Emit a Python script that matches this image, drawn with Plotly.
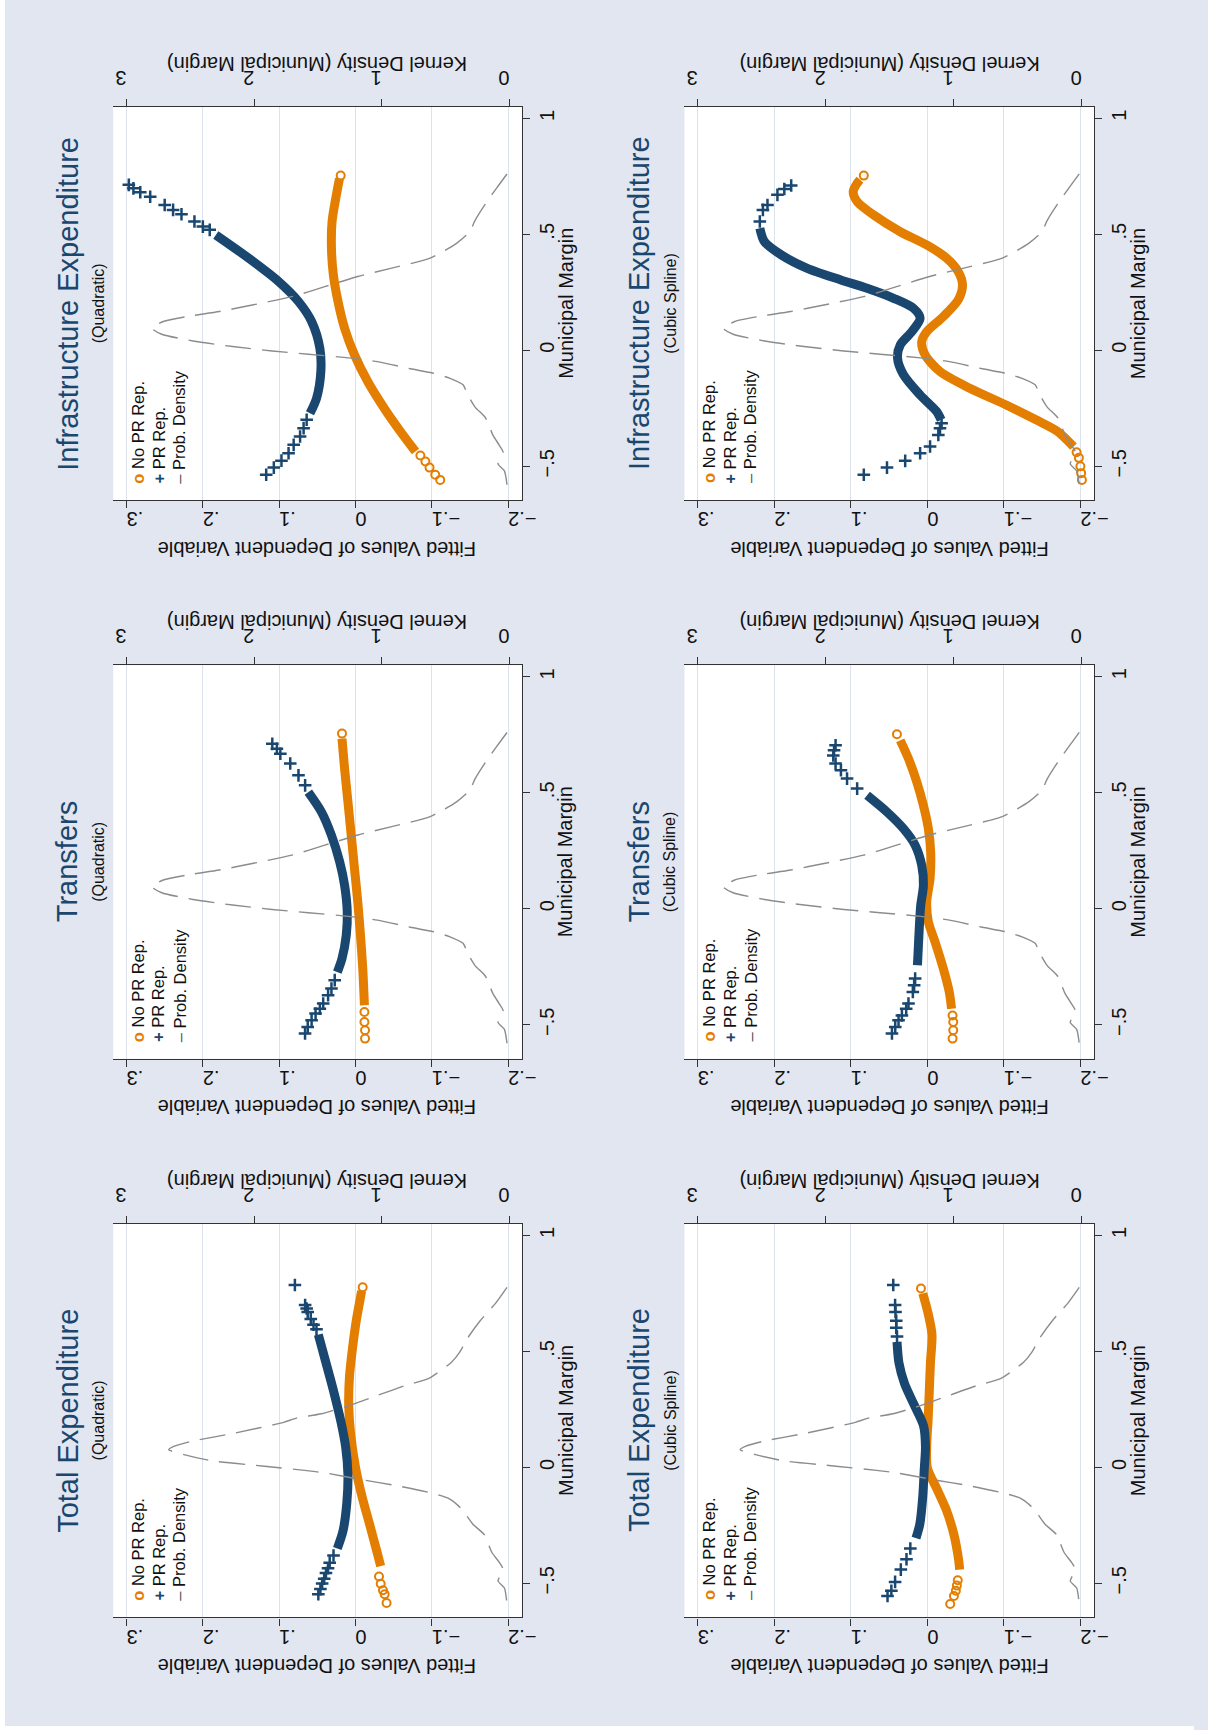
import plotly.graph_objects as go

W, H = 1208, 1730

# ---------------------------------------------------------------------------
# Data: (municipal margin, fitted value) pairs.
# "band" = densely populated stretch of each fitted series,
# "tail" = sparse observations at the ends of the margin range.
# ---------------------------------------------------------------------------

# Kernel density of the municipal margin: (margin, density)
DENS_TOTAL = [
    (0.776, 0.02), (0.707, 0.11), (0.632, 0.23), (0.556, 0.33), (0.497, 0.39),
    (0.453, 0.455), (0.382, 0.636), (0.353, 0.817), (0.310, 1.036), (0.267, 1.255),
    (0.231, 1.474), (0.212, 1.668), (0.194, 1.77), (0.148, 2.15), (0.111, 2.50),
    (0.090, 2.63), (0.076, 2.67), (0.055, 2.55), (0.028, 2.33), (0.005, 1.92),
    (-0.013, 1.604), (-0.025, 1.436), (-0.054, 1.152), (-0.078, 0.894),
    (-0.111, 0.610), (-0.133, 0.481), (-0.164, 0.404), (-0.19, 0.36),
    (-0.245, 0.287), (-0.29, 0.198), (-0.366, 0.139), (-0.41, 0.08),
    (-0.44, 0.05), (-0.49, 0.09), (-0.52, 0.04), (-0.59, 0.02),
]
DENS_OTHER = [
    (0.76, 0.02), (0.70, 0.10), (0.63, 0.19), (0.56, 0.27), (0.511, 0.312),
    (0.461, 0.415), (0.397, 0.622), (0.353, 0.931), (0.318, 1.189), (0.274, 1.447),
    (0.231, 1.705), (0.195, 2.015), (0.167, 2.273), (0.145, 2.531), (0.124, 2.712),
    (0.095, 2.802), (0.069, 2.724), (0.040, 2.479), (0.016, 2.170), (-0.003, 1.860),
    (-0.017, 1.576), (-0.034, 1.241), (-0.049, 1.035), (-0.080, 0.777),
    (-0.099, 0.596), (-0.121, 0.467), (-0.149, 0.364), (-0.19, 0.33),
    (-0.245, 0.27), (-0.29, 0.19), (-0.366, 0.13), (-0.41, 0.08), (-0.44, 0.05),
    (-0.49, 0.09), (-0.52, 0.04), (-0.58, 0.02),
]

# Total Expenditure, quadratic
TE_Q_NO_BAND = [(0.760, -0.008), (0.723, -0.006), (0.632, -0.001), (0.511, 0.004),
                (0.390, 0.0079), (0.270, 0.0089), (0.148, 0.0065), (0.0, 0.0),
                (-0.124, -0.0084), (-0.245, -0.0184), (-0.366, -0.0283), (-0.426, -0.033)]
TE_Q_NO_TAIL = [(0.776, -0.0094), (-0.471, -0.0308), (-0.502, -0.033),
                (-0.530, -0.036), (-0.547, -0.0382), (-0.585, -0.0407)]
TE_Q_PR_BAND = [(0.572, 0.0487), (0.451, 0.0387), (0.330, 0.0288), (0.194, 0.0189),
                (0.088, 0.0129), (-0.033, 0.0099), (-0.154, 0.0114), (-0.275, 0.0164),
                (-0.350, 0.0238)]
TE_Q_PR_TAIL = [(0.786, 0.0794), (0.700, 0.066), (0.685, 0.064), (0.670, 0.0626),
                (0.640, 0.0586), (0.615, 0.055), (0.595, 0.0511), (-0.380, 0.0288),
                (-0.411, 0.0338), (-0.435, 0.036), (-0.456, 0.0387), (-0.480, 0.041),
                (-0.501, 0.0437), (-0.525, 0.046), (-0.547, 0.0487)]

# Total Expenditure, cubic spline
TE_C_NO_BAND = [(0.750, 0.006), (0.738, 0.005), (0.663, -0.001), (0.572, -0.006),
                (0.451, -0.004), (0.330, -0.0025), (0.209, -0.001), (0.088, 0.001),
                (-0.003, 0.0), (-0.093, -0.0124), (-0.184, -0.0248), (-0.290, -0.0347),
                (-0.396, -0.0407), (-0.441, -0.0422)]
TE_C_NO_TAIL = [(0.771, 0.0084), (-0.487, -0.0397), (-0.510, -0.0385),
                (-0.532, -0.0372), (-0.555, -0.0347), (-0.589, -0.0298)]
TE_C_PR_BAND = [(0.541, 0.0397), (0.451, 0.0372), (0.360, 0.0298), (0.270, 0.0174),
                (0.179, 0.005), (0.088, 0.0025), (-0.003, 0.004), (-0.124, 0.006),
                (-0.245, 0.0099), (-0.305, 0.0149)]
TE_C_PR_TAIL = [(0.786, 0.0446), (0.700, 0.0422), (0.670, 0.0417), (0.632, 0.0407),
                (0.602, 0.0407), (0.564, 0.0397), (-0.350, 0.0223), (-0.396, 0.0273),
                (-0.441, 0.0347), (-0.494, 0.0422), (-0.532, 0.0471), (-0.555, 0.0521)]

# Transfers, quadratic
TR_Q_NO_BAND = [(0.733, 0.0177), (0.604, 0.0143), (0.460, 0.0099), (0.317, 0.0056),
                (0.173, 0.0013), (0.029, -0.003), (-0.114, -0.0065), (-0.258, -0.0095),
                (-0.416, -0.0117)]
TR_Q_NO_TAIL = [(0.755, 0.0177), (-0.445, -0.0117), (-0.488, -0.0117),
                (-0.524, -0.0125), (-0.560, -0.0125)]
TR_Q_PR_BAND = [(0.503, 0.0618), (0.417, 0.0445), (0.317, 0.0315), (0.202, 0.0207),
                (0.101, 0.0143), (-0.014, 0.0108), (-0.114, 0.0121), (-0.215, 0.0177),
                (-0.273, 0.0238)]
TR_Q_PR_TAIL = [(0.711, 0.109), (0.690, 0.103), (0.668, 0.0985), (0.626, 0.0855),
                (0.575, 0.0747), (0.532, 0.066), (-0.308, 0.0272), (-0.344, 0.0315),
                (-0.373, 0.0359), (-0.409, 0.0423), (-0.431, 0.0467), (-0.452, 0.0523),
                (-0.481, 0.0575), (-0.510, 0.0626), (-0.538, 0.0661)]

# Transfers, cubic spline
TR_C_NO_BAND = [(0.726, 0.0355), (0.647, 0.0247), (0.547, 0.0139), (0.446, 0.0052),
                (0.345, -0.0013), (0.245, -0.0043), (0.130, -0.0035), (0.029, 0.0009),
                (-0.057, -0.0013), (-0.143, -0.010), (-0.258, -0.0208),
                (-0.359, -0.0286), (-0.431, -0.0316)]
TR_C_NO_TAIL = [(0.752, 0.0398), (-0.460, -0.0329), (-0.488, -0.0338),
                (-0.524, -0.0338), (-0.560, -0.0329)]
TR_C_PR_BAND = [(0.489, 0.0788), (0.417, 0.0528), (0.345, 0.0312), (0.274, 0.016),
                (0.187, 0.0074), (0.101, 0.0052), (0.015, 0.0087), (-0.071, 0.0104),
                (-0.157, 0.0117), (-0.244, 0.013)]
TR_C_PR_TAIL = [(0.705, 0.120), (0.683, 0.122), (0.661, 0.123), (0.626, 0.120),
                (0.597, 0.113), (0.561, 0.105), (0.518, 0.0918), (-0.301, 0.016),
                (-0.330, 0.0173), (-0.359, 0.019), (-0.409, 0.0247), (-0.431, 0.0277),
                (-0.460, 0.0333), (-0.481, 0.0377), (-0.510, 0.042), (-0.538, 0.0463)]

# Infrastructure Expenditure, quadratic
IN_Q_NO_BAND = [(0.740, 0.021), (0.670, 0.025), (0.555, 0.0307), (0.440, 0.0315),
                (0.325, 0.029), (0.210, 0.0229), (0.095, 0.0143), (-0.020, 0.0013),
                (-0.135, -0.016), (-0.25, -0.0376), (-0.351, -0.059), (-0.437, -0.0786)]
IN_Q_NO_TAIL = [(0.753, 0.0194), (-0.454, -0.085), (-0.480, -0.0916),
                (-0.506, -0.097), (-0.537, -0.1045), (-0.559, -0.111)]
IN_Q_PR_BAND = [(0.497, 0.183), (0.397, 0.140), (0.296, 0.1006), (0.210, 0.0747),
                (0.124, 0.0575), (0.009, 0.0467), (-0.092, 0.0454), (-0.207, 0.051),
                (-0.272, 0.0596)]
IN_Q_PR_TAIL = [(0.713, 0.297), (0.698, 0.291), (0.681, 0.282), (0.662, 0.269),
                (0.626, 0.250), (0.605, 0.239), (0.586, 0.228), (0.555, 0.211),
                (0.533, 0.200), (0.519, 0.191), (-0.300, 0.064), (-0.336, 0.068),
                (-0.372, 0.0726), (-0.408, 0.081), (-0.444, 0.0877), (-0.476, 0.097),
                (-0.506, 0.107), (-0.537, 0.117)]

# Infrastructure Expenditure, cubic spline
IN_C_NO_BAND = [(0.735, 0.088), (0.720, 0.0918), (0.684, 0.097), (0.641, 0.0918),
                (0.583, 0.0701), (0.511, 0.0355), (0.454, 0.0009), (0.397, -0.0251),
                (0.339, -0.0403), (0.282, -0.0459), (0.217, -0.0403), (0.145, -0.0208),
                (0.080, 0.0009), (0.037, 0.0074), (-0.020, 0.003), (-0.092, -0.0165),
                (-0.164, -0.0554), (-0.236, -0.103), (-0.300, -0.142), (-0.350, -0.170),
                (-0.416, -0.191)]
IN_C_NO_TAIL = [(0.753, 0.0831), (-0.440, -0.195), (-0.464, -0.198),
                (-0.500, -0.200), (-0.530, -0.201), (-0.559, -0.202)]
IN_C_PR_BAND = [(0.526, 0.219), (0.468, 0.213), (0.411, 0.191), (0.353, 0.157),
                (0.303, 0.113), (0.267, 0.0788), (0.224, 0.0442), (0.181, 0.0182),
                (0.138, 0.0095), (0.080, 0.0203), (0.023, 0.0355), (-0.034, 0.039),
                (-0.106, 0.0312), (-0.193, 0.0095), (-0.264, -0.0121), (-0.300, -0.018)]
IN_C_PR_TAIL = [(0.710, 0.178), (0.695, 0.187), (0.670, 0.196), (0.626, 0.209),
                (0.605, 0.215), (0.555, 0.219), (-0.315, -0.0186), (-0.336, -0.0165),
                (-0.365, -0.0143), (-0.415, -0.0035), (-0.444, 0.0095), (-0.477, 0.029),
                (-0.506, 0.0528), (-0.537, 0.0831)]

FIT_TICKS = [-0.2, -0.1, 0.0, 0.1, 0.2, 0.3]
FIT_LABELS = ["\u2212.2", "\u2212.1", "0", ".1", ".2", ".3"]
DENS_TICKS = [0, 1, 2, 3]
DENS_LABELS = ["0", "1", "2", "3"]
MARGIN_TICKS = [-0.5, 0.0, 0.5, 1.0]
MARGIN_LABELS = ["\u2212.5", "0", ".5", "1"]

FIT_RANGE = [0.3175, -0.218]
DENS_RANGE = [3.1045, -0.0967]
MARGIN_RANGE = [-0.647, 1.05]

# ---------------------------------------------------------------------------
# Styling
# ---------------------------------------------------------------------------
ORANGE = "#E37E00"
NAVY = "#1A476F"
DENS_COLOR = "#8C8C8C"
BG = "#E1E6F0"
GRID = "#DCE2ED"
AXIS = "#333333"
TXT = "#111111"
FONT = "Liberation Sans, Arial, sans-serif"

COL_X = [(114.5, 528.0), (692.5, 1107.0)]
ROW_Y = [(106.7, 500.3), (665.2, 1058.8), (1223.8, 1617.4)]

PANELS = [
    # row, col, title, subtitle, no-band, no-tail, pr-band, pr-tail, density
    (0, 0, "Infrastructure Expenditure", "(Quadratic)",
     IN_Q_NO_BAND, IN_Q_NO_TAIL, IN_Q_PR_BAND, IN_Q_PR_TAIL, DENS_OTHER),
    (0, 1, "Infrastructure Expenditure", "(Cubic Spline)",
     IN_C_NO_BAND, IN_C_NO_TAIL, IN_C_PR_BAND, IN_C_PR_TAIL, DENS_OTHER),
    (1, 0, "Transfers", "(Quadratic)",
     TR_Q_NO_BAND, TR_Q_NO_TAIL, TR_Q_PR_BAND, TR_Q_PR_TAIL, DENS_OTHER),
    (1, 1, "Transfers", "(Cubic Spline)",
     TR_C_NO_BAND, TR_C_NO_TAIL, TR_C_PR_BAND, TR_C_PR_TAIL, DENS_OTHER),
    (2, 0, "Total Expenditure", "(Quadratic)",
     TE_Q_NO_BAND, TE_Q_NO_TAIL, TE_Q_PR_BAND, TE_Q_PR_TAIL, DENS_TOTAL),
    (2, 1, "Total Expenditure", "(Cubic Spline)",
     TE_C_NO_BAND, TE_C_NO_TAIL, TE_C_PR_BAND, TE_C_PR_TAIL, DENS_TOTAL),
]


def ax_id(letter, n):
    return letter if n == 1 else f"{letter}{n}"


def split(pairs):
    return [p[1] for p in pairs], [p[0] for p in pairs]


def px(x):
    return x / W


def py(y):
    return 1 - y / H


fig = go.Figure()
layout = {}
annotations = []

tick_font = dict(family=FONT, size=20, color=TXT)

for k, (row, col, title, subtitle, no_band, no_tail, pr_band, pr_tail, dens) in enumerate(PANELS):
    fx_n, dx_n, y_n = 2 * k + 1, 2 * k + 2, k + 1
    fx, dx, yy = ax_id("x", fx_n), ax_id("x", dx_n), ax_id("y", y_n)
    x0, x1 = COL_X[col]
    y0, y1 = ROW_Y[row]

    layout["xaxis" if fx_n == 1 else f"xaxis{fx_n}"] = dict(
        domain=[px(x0), px(x1)], anchor=yy, side="bottom", range=FIT_RANGE,
        tickmode="array", tickvals=FIT_TICKS, ticktext=FIT_LABELS, tickangle=180,
        ticks="outside", ticklen=7, tickwidth=1.3, tickcolor=AXIS,
        showline=True, linecolor=AXIS, linewidth=1.3,
        showgrid=True, gridcolor=GRID, gridwidth=1.3, zeroline=False,
        tickfont=tick_font, fixedrange=True,
    )
    layout[f"xaxis{dx_n}"] = dict(
        overlaying=fx, anchor=yy, side="top", range=DENS_RANGE,
        tickmode="array", tickvals=DENS_TICKS, ticktext=DENS_LABELS, tickangle=180,
        ticks="outside", ticklen=7, tickwidth=1.3, tickcolor=AXIS,
        showline=True, linecolor=AXIS, linewidth=1.3,
        showgrid=False, zeroline=False, tickfont=tick_font, fixedrange=True,
    )
    layout["yaxis" if y_n == 1 else f"yaxis{y_n}"] = dict(
        domain=[py(y1), py(y0)], anchor=fx, side="right", range=MARGIN_RANGE,
        tickmode="array", tickvals=MARGIN_TICKS, ticktext=MARGIN_LABELS, tickangle=-90,
        ticks="outside", ticklen=7, tickwidth=1.3, tickcolor=AXIS,
        showline=True, linecolor=AXIS, linewidth=1.3,
        showgrid=False, zeroline=False, tickfont=tick_font, fixedrange=True,
    )

    # No PR Rep. (orange hollow circles)
    v, m = split(no_band)
    fig.add_trace(go.Scatter(x=v, y=m, mode="lines", xaxis=fx, yaxis=yy,
                             line=dict(color=ORANGE, width=9, shape="spline", smoothing=0.8),
                             showlegend=False, hoverinfo="skip"))
    v, m = split(no_tail)
    fig.add_trace(go.Scatter(x=v, y=m, mode="markers", xaxis=fx, yaxis=yy,
                             marker=dict(symbol="circle-open", size=8, color=ORANGE,
                                         line=dict(width=2, color=ORANGE)),
                             showlegend=False, hoverinfo="skip"))
    # PR Rep. (navy crosses)
    v, m = split(pr_band)
    fig.add_trace(go.Scatter(x=v, y=m, mode="lines", xaxis=fx, yaxis=yy,
                             line=dict(color=NAVY, width=9, shape="spline", smoothing=0.8),
                             showlegend=False, hoverinfo="skip"))
    v, m = split(pr_tail)
    fig.add_trace(go.Scatter(x=v, y=m, mode="markers", xaxis=fx, yaxis=yy,
                             marker=dict(symbol="cross-thin", size=9, color=NAVY,
                                         line=dict(width=2.5, color=NAVY)),
                             showlegend=False, hoverinfo="skip"))
    # kernel density on the top axis
    d_m = [p[0] for p in dens]
    d_v = [p[1] for p in dens]
    fig.add_trace(go.Scatter(x=d_v, y=d_m, mode="lines", xaxis=dx, yaxis=yy,
                             line=dict(color=DENS_COLOR, width=1.4, dash="26px,11px",
                                       shape="spline", smoothing=0.6),
                             showlegend=False, hoverinfo="skip"))

    cx, cy = (x0 + x1) / 2, (y0 + y1) / 2
    # panel title + subtitle
    annotations.append(dict(x=px(x0 - 46.5), y=py(cy), xref="paper", yref="paper",
                            text=title, textangle=-90, showarrow=False,
                            xanchor="center", yanchor="middle",
                            font=dict(family=FONT, size=29, color=NAVY)))
    annotations.append(dict(x=px(x0 - 14.5), y=py(cy), xref="paper", yref="paper",
                            text=subtitle, textangle=-90, showarrow=False,
                            xanchor="center", yanchor="middle",
                            font=dict(family=FONT, size=16, color=TXT)))
    # axis titles
    annotations.append(dict(x=px(cx), y=py(y1 + 48), xref="paper", yref="paper",
                            text="Fitted Values of Dependent Variable", textangle=180,
                            showarrow=False, xanchor="center", yanchor="middle",
                            font=dict(family=FONT, size=20, color=TXT)))
    annotations.append(dict(x=px(cx), y=py(y0 - 43.4), xref="paper", yref="paper",
                            text="Kernel Density (Municipal Margin)", textangle=180,
                            showarrow=False, xanchor="center", yanchor="middle",
                            font=dict(family=FONT, size=20, color=TXT)))
    annotations.append(dict(x=px(x1 + 44), y=py(cy), xref="paper", yref="paper",
                            text="Municipal Margin", textangle=-90,
                            showarrow=False, xanchor="center", yanchor="middle",
                            font=dict(family=FONT, size=20, color=TXT)))
    # legend inside the plot region
    legend_rows = [
        (25, f"<span style='color:{ORANGE}'><b>o</b></span> No PR Rep."),
        (46, f"<span style='color:{NAVY}'><b>+</b></span> PR Rep."),
        (67, "<span style='color:#555555'>\u2013</span> Prob. Density"),
    ]
    for dxp, txt in legend_rows:
        annotations.append(dict(x=px(x0 + dxp), y=py(y1 - 15), xref="paper", yref="paper",
                                text=txt, textangle=-90, showarrow=False,
                                xanchor="center", yanchor="bottom",
                                font=dict(family=FONT, size=16.5, color=TXT)))

fig.update_layout(
    width=W, height=H, margin=dict(l=0, r=0, t=0, b=0),
    paper_bgcolor=BG, plot_bgcolor="white",
    showlegend=False, annotations=annotations,
    # thin white page strips along the left and bottom edges
    shapes=[
        dict(type="rect", xref="paper", yref="paper", x0=0, x1=5 / W, y0=0, y1=1,
             fillcolor="white", line=dict(width=0)),
        dict(type="rect", xref="paper", yref="paper", x0=0, x1=1, y0=0, y1=4 / H,
             fillcolor="white", line=dict(width=0)),
    ],
    **layout,
)

fig.write_html("out.html")
